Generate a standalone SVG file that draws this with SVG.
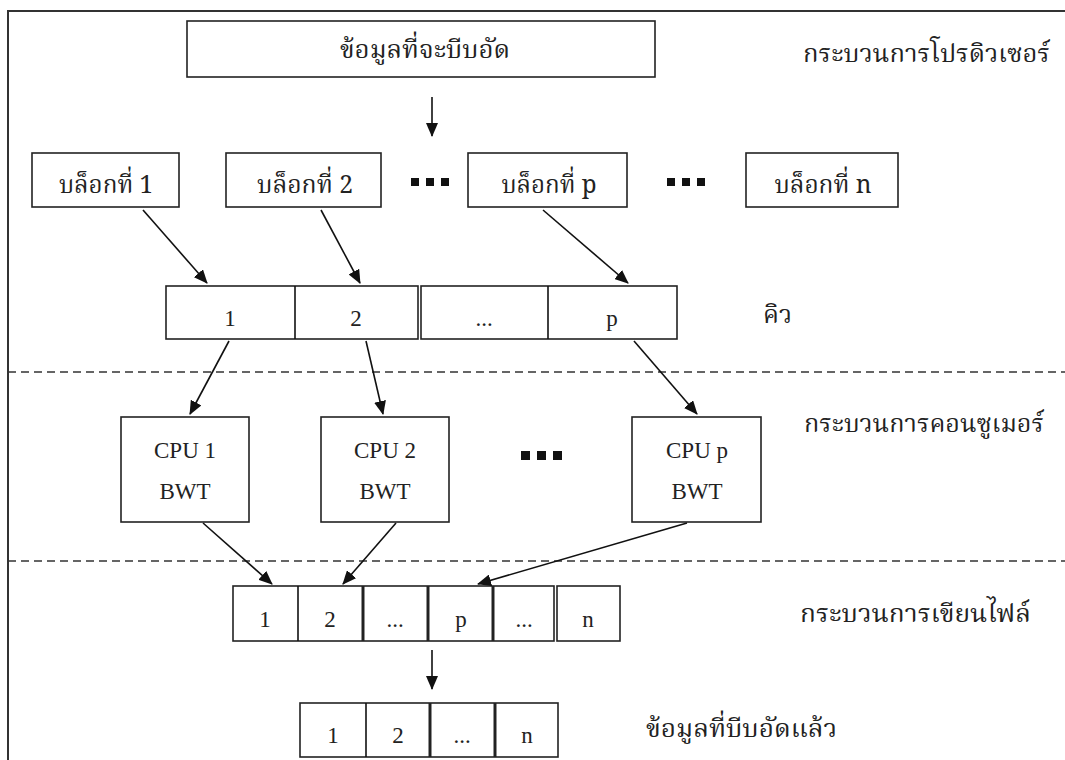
<svg xmlns="http://www.w3.org/2000/svg" width="1065" height="760" viewBox="0 0 1065 760">
<defs>
<style>
.bx{fill:#fff;stroke:#222;stroke-width:1.6}
.thk{stroke:#222;stroke-width:3}
.ln{stroke:#111;stroke-width:1.6;fill:none}
.dash{stroke:#333;stroke-width:1.5;stroke-dasharray:8 5;fill:none}
.th{font-family:"Noto Serif Thai","Norasi","Noto Sans Thai Looped","Tlwg Typist","Noto Sans Thai","DejaVu Serif","Liberation Serif",serif;font-size:25px;fill:#222}
.lt{font-family:"Liberation Serif","Times New Roman",serif;font-size:23px;fill:#222}
.dot{fill:#111}
</style>
<marker id="ah" markerWidth="14" markerHeight="12" refX="13" refY="6" orient="auto" markerUnits="userSpaceOnUse">
<path d="M0,0 L14,6 L0,12 Z" fill="#111"/>
</marker>
</defs>
<rect width="1065" height="760" fill="#fff"/>
<path d="M8,760 L8,11 L1065,11" fill="none" stroke="#333" stroke-width="2"/>

<g id="source">
<rect class="bx" x="187" y="21" width="468" height="56"/>
<text class="th" x="425" y="58" text-anchor="middle" textLength="170" lengthAdjust="spacingAndGlyphs">ข้อมูลที่จะบีบอัด</text>
</g>
<g id="label-producer"><text class="th" x="803" y="62" textLength="247" lengthAdjust="spacingAndGlyphs">กระบวนการโปรดิวเซอร์</text></g>

<g id="block1"><rect class="bx" x="32" y="153" width="147" height="54"/>
<text class="th" x="106" y="193" text-anchor="middle" textLength="94" lengthAdjust="spacingAndGlyphs">บล็อกที่ 1</text></g>
<g id="block2"><rect class="bx" x="226" y="153" width="155" height="54"/>
<text class="th" x="305" y="193" text-anchor="middle" textLength="96" lengthAdjust="spacingAndGlyphs">บล็อกที่ 2</text></g>
<g id="dots1"><rect class="dot" x="411" y="178" width="8" height="8"/><rect class="dot" x="426" y="178" width="8" height="8"/><rect class="dot" x="441" y="178" width="8" height="8"/></g>
<g id="blockp"><rect class="bx" x="468" y="153" width="159" height="54"/>
<text class="th" x="549" y="193" text-anchor="middle" textLength="95" lengthAdjust="spacingAndGlyphs">บล็อกที่ p</text></g>
<g id="dots2"><rect class="dot" x="667" y="178" width="8" height="8"/><rect class="dot" x="682" y="178" width="8" height="8"/><rect class="dot" x="697" y="178" width="8" height="8"/></g>
<g id="blockn"><rect class="bx" x="746" y="153" width="152" height="54"/>
<text class="th" x="823" y="193" text-anchor="middle" textLength="97" lengthAdjust="spacingAndGlyphs">บล็อกที่ n</text></g>

<g id="queue">
<rect class="bx" x="166" y="286" width="252" height="53"/>
<line class="ln" x1="295" y1="286" x2="295" y2="339"/>
<rect class="bx" x="421" y="286" width="256" height="53"/>
<line class="ln" x1="548" y1="286" x2="548" y2="339"/>
<text class="lt" x="230" y="326" text-anchor="middle">1</text>
<text class="lt" x="356" y="326" text-anchor="middle">2</text>
<text class="lt" x="484" y="326" text-anchor="middle" font-size="14">...</text>
<text class="lt" x="612" y="326" text-anchor="middle">p</text>
</g>
<g id="label-queue"><text class="th" x="763" y="323" textLength="29" lengthAdjust="spacingAndGlyphs">คิว</text></g>

<g id="cpu1"><rect class="bx" x="121" y="417" width="128" height="105"/>
<text class="lt" x="185" y="458" text-anchor="middle">CPU 1</text>
<text class="lt" x="185" y="499" text-anchor="middle">BWT</text></g>
<g id="cpu2"><rect class="bx" x="321" y="417" width="128" height="105"/>
<text class="lt" x="385" y="458" text-anchor="middle">CPU 2</text>
<text class="lt" x="385" y="499" text-anchor="middle">BWT</text></g>
<g id="dots3"><rect class="dot" x="521" y="451" width="9" height="9"/><rect class="dot" x="537" y="451" width="9" height="9"/><rect class="dot" x="553" y="451" width="9" height="9"/></g>
<g id="cpup"><rect class="bx" x="632" y="417" width="129" height="105"/>
<text class="lt" x="697" y="458" text-anchor="middle">CPU p</text>
<text class="lt" x="697" y="499" text-anchor="middle">BWT</text></g>
<g id="label-consumer"><text class="th" x="804" y="432" textLength="240" lengthAdjust="spacingAndGlyphs">กระบวนการคอนซูเมอร์</text></g>

<g id="filerow">
<rect class="bx" x="233" y="586" width="321" height="55"/>
<line class="ln" x1="298" y1="586" x2="298" y2="641"/>
<line class="thk" x1="363" y1="586" x2="363" y2="641"/>
<line class="thk" x1="428" y1="586" x2="428" y2="641"/>
<line class="thk" x1="493" y1="586" x2="493" y2="641"/>
<rect class="bx" x="557" y="586" width="63" height="55"/>
<text class="lt" x="265" y="627" text-anchor="middle">1</text>
<text class="lt" x="330" y="627" text-anchor="middle">2</text>
<text class="lt" x="395" y="627" text-anchor="middle" font-size="14">...</text>
<text class="lt" x="461" y="627" text-anchor="middle">p</text>
<text class="lt" x="524" y="627" text-anchor="middle" font-size="14">...</text>
<text class="lt" x="588" y="627" text-anchor="middle">n</text>
</g>
<g id="label-writer"><text class="th" x="800" y="622" textLength="231" lengthAdjust="spacingAndGlyphs">กระบวนการเขียนไฟล์</text></g>

<g id="output">
<rect class="bx" x="300" y="703" width="258" height="54"/>
<line class="ln" x1="366" y1="703" x2="366" y2="757"/>
<line class="thk" x1="430" y1="703" x2="430" y2="757"/>
<line class="thk" x1="495" y1="703" x2="495" y2="757"/>
<text class="lt" x="333" y="743" text-anchor="middle">1</text>
<text class="lt" x="398" y="743" text-anchor="middle">2</text>
<text class="lt" x="462" y="743" text-anchor="middle" font-size="14">...</text>
<text class="lt" x="527" y="743" text-anchor="middle">n</text>
</g>
<g id="label-output"><text class="th" x="646" y="737" textLength="191" lengthAdjust="spacingAndGlyphs">ข้อมูลที่บีบอัดแล้ว</text></g>

<g id="separators">
<line class="dash" x1="8" y1="372" x2="1065" y2="372"/>
<line class="dash" x1="8" y1="561" x2="1065" y2="561"/>
</g>

<g id="connectors">
<line class="ln" x1="432" y1="97" x2="432" y2="136" marker-end="url(#ah)"/>
<line class="ln" x1="143" y1="210" x2="207" y2="283" marker-end="url(#ah)"/>
<line class="ln" x1="321" y1="210" x2="360" y2="283" marker-end="url(#ah)"/>
<line class="ln" x1="543" y1="210" x2="628" y2="283" marker-end="url(#ah)"/>
<line class="ln" x1="229" y1="341" x2="190" y2="414" marker-end="url(#ah)"/>
<line class="ln" x1="366" y1="341" x2="383" y2="414" marker-end="url(#ah)"/>
<line class="ln" x1="634" y1="341" x2="697" y2="414" marker-end="url(#ah)"/>
<line class="ln" x1="203" y1="523" x2="272" y2="584" marker-end="url(#ah)"/>
<line class="ln" x1="396" y1="523" x2="343" y2="584" marker-end="url(#ah)"/>
<line class="ln" x1="687" y1="523" x2="478" y2="584" marker-end="url(#ah)"/>
<line class="ln" x1="432" y1="650" x2="432" y2="689" marker-end="url(#ah)"/>
</g>
</svg>
